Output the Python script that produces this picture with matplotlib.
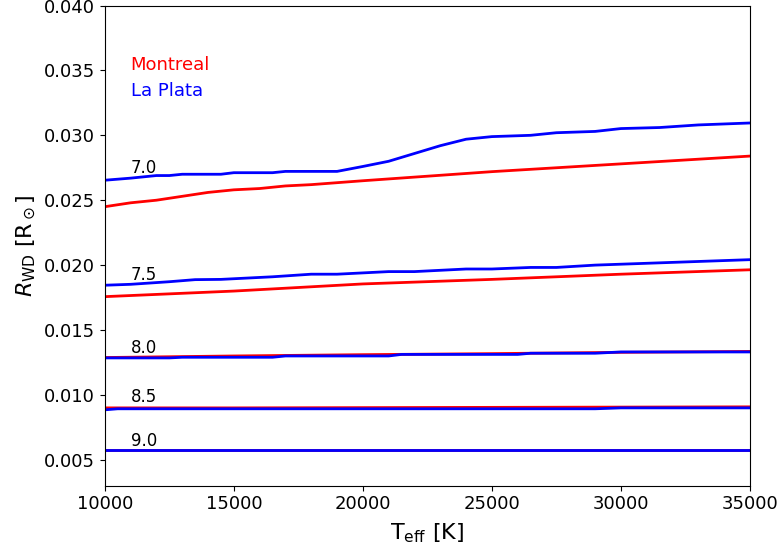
import numpy as np
import matplotlib.pyplot as plt

# white dwarf radius vs effective temperature, per log g
# Montreal models (red)
mt_teff = [10000, 11000, 12000, 13000, 14000, 15000, 16000, 17000, 18000, 20000, 25000, 30000, 35000]
mt_r70 = [0.0245, 0.0248, 0.0250, 0.0253, 0.0256, 0.0258, 0.0259, 0.0261, 0.0262, 0.0265, 0.0272, 0.0278, 0.0284]
mt_teff2 = [10000, 15000, 20000, 25000, 30000, 35000]
mt_r75 = [0.01757, 0.0180, 0.01855, 0.0189, 0.0193, 0.01964]
mt_r80 = [0.01288, 0.0130, 0.0131, 0.01318, 0.01328, 0.01335]
mt_r85 = [0.00900, 0.00900, 0.00902, 0.00904, 0.00906, 0.00908]
mt_r90 = [0.00575, 0.00575, 0.00575, 0.00575, 0.00575, 0.00575]

# La Plata models (blue)
lp_teff70 = [10000, 11000, 12000, 12500, 13000, 14500, 15000, 16500, 17000, 19000, 20000,
             21000, 22000, 23000, 24000, 25000, 26500, 27500, 29000, 30000, 31500, 33000, 35000]
lp_r70 = [0.02654, 0.0267, 0.0269, 0.0269, 0.0270, 0.0270, 0.02712, 0.02712, 0.02722, 0.02722, 0.0276,
          0.0280, 0.0286, 0.0292, 0.0297, 0.0299, 0.0300, 0.0302, 0.0303, 0.03052, 0.0306, 0.0308, 0.03095]
lp_teff75 = [10000, 11000, 12500, 13500, 14500, 16500, 18000, 19000, 21000, 22000, 24000, 25000,
             26500, 27500, 29000, 35000]
lp_r75 = [0.01845, 0.01852, 0.01872, 0.01888, 0.01890, 0.01910, 0.01930, 0.01930, 0.01950, 0.01950,
          0.01970, 0.01970, 0.01982, 0.01982, 0.02000, 0.02042]
lp_teff80 = [10000, 12500, 13000, 16500, 17000, 21000, 21500, 26000, 26500, 29000, 30000, 35000]
lp_r80 = [0.01285, 0.01285, 0.0129, 0.0129, 0.0130, 0.0130, 0.01312, 0.01312, 0.01321, 0.01321, 0.01331, 0.01331]
lp_teff85 = [10000, 10500, 29000, 30000, 35000]
lp_r85 = [0.00885, 0.00893, 0.00893, 0.00900, 0.00900]
lp_teff90 = [10000, 35000]
lp_r90 = [0.00572, 0.00572]

logg_labels = ['7.0', '7.5', '8.0', '8.5', '9.0']
label_y = [0.02675, 0.01855, 0.01295, 0.00915, 0.00575]

fig, ax = plt.subplots(figsize=(7.82, 5.52), dpi=100)
fig.subplots_adjust(left=0.134, right=0.959, top=0.99, bottom=0.12)

lw = 2
ax.plot(mt_teff, mt_r70, color='red', lw=lw)
for r in [mt_r75, mt_r80, mt_r85, mt_r90]:
    ax.plot(mt_teff2, r, color='red', lw=lw)

ax.plot(lp_teff70, lp_r70, color='blue', lw=lw)
ax.plot(lp_teff75, lp_r75, color='blue', lw=lw)
ax.plot(lp_teff80, lp_r80, color='blue', lw=lw)
ax.plot(lp_teff85, lp_r85, color='blue', lw=lw)
ax.plot(lp_teff90, lp_r90, color='blue', lw=lw)

for lab, yy in zip(logg_labels, label_y):
    ax.text(11000, yy, lab, fontsize=12, ha='left', va='bottom')

ax.text(11000, 0.03505, 'Montreal', color='red', fontsize=13)
ax.text(11000, 0.03305, 'La Plata', color='blue', fontsize=13)

ax.set_xlim(10000, 35000)
ax.set_ylim(0.003, 0.040)
ax.set_xticks(np.arange(10000, 35001, 5000))
ax.set_yticks(np.arange(0.005, 0.0401, 0.005))
ax.tick_params(labelsize=13)
ax.set_xlabel(r'T$_{\rm eff}$ [K]', fontsize=16, labelpad=6)
ax.set_ylabel(r'$R_{\rm WD}$ [R$_\odot$]', fontsize=16)

plt.savefig('out.png', dpi=100)
